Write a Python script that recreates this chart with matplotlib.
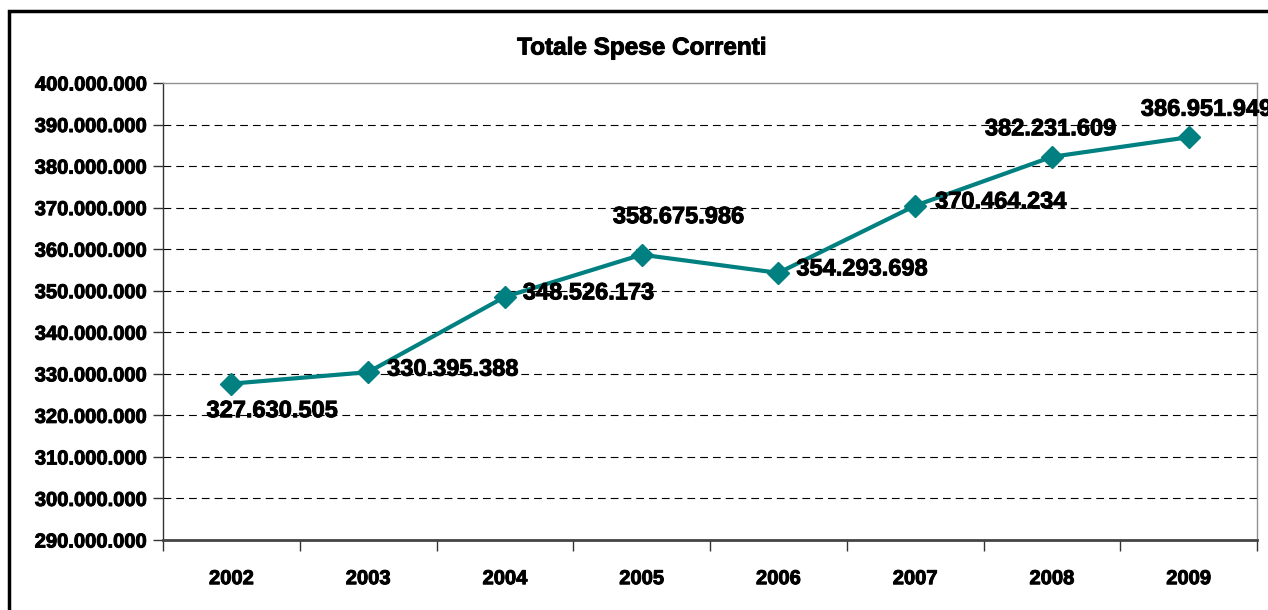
import matplotlib.pyplot as plt
import matplotlib.patheffects as pe
from matplotlib.patches import Rectangle
from matplotlib.ticker import FuncFormatter, MultipleLocator

anni = ['2002', '2003', '2004', '2005', '2006', '2007', '2008', '2009']
spese = [327630505, 330395388, 348526173, 358675986,
         354293698, 370464234, 382231609, 386951949]
# label offsets in pixels (dx, dy, alignment)
offsets = [(41, -27, 'center'), (19, 3, 'left'), (18, 4, 'left'),
           (37, 38, 'center'), (18, 4, 'left'), (20, 4, 'left'),
           (-1, 28, 'center'), (18, 28, 'center')]

teal = '#008080'
plt.rcParams['font.family'] = ['Liberation Sans', 'DejaVu Sans']
plt.rcParams['font.weight'] = 'bold'
heavy = [pe.withStroke(linewidth=0.7, foreground='black')]

fig = plt.figure(figsize=(12.68, 6.10), dpi=100)
W, H = 1268, 610
ax = fig.add_axes([163 / W, 1 - 540 / H, (1257 - 163) / W, (540 - 83) / H])

x = list(range(len(anni)))
ax.plot(x, spese, color=teal, lw=3, marker='D', ms=11, mfc=teal, mec=teal,
        zorder=3, clip_on=False)

def it_fmt(v, pos=None):
    return f'{int(round(v)):,}'.replace(',', '.')

for xi, v, (dx, dy, ha) in zip(x, spese, offsets):
    ax.annotate(it_fmt(v), (xi, v), xytext=(dx, dy), textcoords='offset pixels',
                ha=ha, va='center', fontsize=17, fontweight='bold',
                annotation_clip=False, zorder=4, path_effects=heavy)

ax.set_xlim(-0.5, len(anni) - 0.5)
ax.set_ylim(290e6, 400e6)
ax.yaxis.set_major_locator(MultipleLocator(10e6))
ax.yaxis.set_major_formatter(FuncFormatter(it_fmt))
ax.set_xticks(x)
ax.set_xticklabels(anni)
ax.set_xticks([i - 0.5 for i in range(len(anni) + 1)], minor=True)
ax.tick_params(axis='x', which='major', length=0, pad=21, labelsize=14.5)
ax.tick_params(axis='x', which='minor', length=8, width=1, color='#333333')
ax.tick_params(axis='y', length=7, width=1, color='#333333', pad=5, labelsize=14.5)
for lbl in ax.get_xticklabels() + ax.get_yticklabels():
    lbl.set_path_effects(heavy)

for y in range(300, 400, 10):
    ax.axhline(y * 1e6, color='black', lw=0.8, dashes=(7, 4.5), zorder=1)

for side in ('top', 'right'):
    ax.spines[side].set_color('#909090')
    ax.spines[side].set_linewidth(1)
ax.spines['left'].set_color('#333333')
ax.spines['left'].set_linewidth(1)
ax.spines['bottom'].set_color('#444444')
ax.spines['bottom'].set_linewidth(2)

fig.text(642 / W, 1 - 48 / H, 'Totale Spese Correnti', ha='center', va='center',
         fontsize=17.5, fontweight='bold', path_effects=heavy)

# outer chart frame
fig.patches.append(Rectangle((9 / W, -0.1), 1.2, 1 - 11 / H + 0.1,
                             transform=fig.transFigure, fill=False,
                             lw=2.5, ec='black'))

fig.savefig('out.png', dpi=100)
